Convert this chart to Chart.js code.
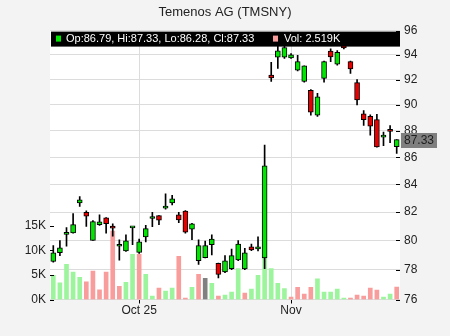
<!DOCTYPE html>
<html>
<head>
<meta charset="utf-8">
<title>Temenos AG (TMSNY)</title>
<script src="https://cdn.jsdelivr.net/npm/chart.js@4.4.1/dist/chart.umd.min.js"></script>
<style>
html, body { margin: 0; padding: 0; background: #f3f3f3; }
</style>
</head>
<body>
<canvas id="ChartTmsny" width="450" height="336"></canvas>
<script>
// daily candles, Sep 12 - Nov 25 2025
const days = [
    '2025-09-12', '2025-09-15', '2025-09-16', '2025-09-17', '2025-09-18', '2025-09-19',
    '2025-09-22', '2025-09-23', '2025-09-24', '2025-09-25', '2025-09-26', '2025-09-29', '2025-09-30',
    '2025-10-01', '2025-10-02', '2025-10-03', '2025-10-06', '2025-10-07', '2025-10-08', '2025-10-09',
    '2025-10-10', '2025-10-13', '2025-10-14', '2025-10-15', '2025-10-16', '2025-10-17', '2025-10-20',
    '2025-10-21', '2025-10-22', '2025-10-23', '2025-10-24', '2025-10-27', '2025-10-28', '2025-10-29',
    '2025-10-30', '2025-10-31',
    '2025-11-03', '2025-11-04', '2025-11-05', '2025-11-06', '2025-11-07', '2025-11-10', '2025-11-11',
    '2025-11-12', '2025-11-13', '2025-11-14', '2025-11-17', '2025-11-18', '2025-11-19', '2025-11-20',
    '2025-11-21', '2025-11-24', '2025-11-25'
];
const opens = [
    78.55, 79.15, 80.42, 80.53, 82.65, 81.98, 80.00, 81.10, 81.58, 81.00, 79.60, 79.28, 80.88,
    79.17, 80.25, 81.54, 81.74, 82.28, 82.65, 81.80, 82.07, 80.79, 78.60, 78.82, 79.70, 78.43,
    77.84, 78.06, 78.66, 78.05, 79.56, 79.42, 78.80, 92.37, 93.80, 93.80,
    93.75, 92.75, 91.85, 91.15, 89.20, 92.10, 94.30, 93.25, 95.00, 93.45, 91.76, 89.30, 89.10,
    88.85, 87.52, 88.00, 86.79
];
const highs = [
    79.65, 80.00, 80.90, 81.89, 83.10, 82.08, 81.40, 81.80, 81.60, 81.17, 80.05, 80.40, 80.95,
    80.10, 81.06, 81.98, 81.75, 83.30, 83.20, 81.98, 82.10, 81.20, 80.05, 79.95, 80.40, 78.45,
    78.96, 79.40, 80.00, 79.45, 79.75, 80.25, 86.92, 93.38, 94.90, 94.90,
    94.10, 93.95, 93.10, 91.20, 90.90, 93.50, 94.50, 94.35, 95.10, 93.50, 92.00, 89.55, 89.23,
    89.27, 87.90, 88.40, 87.33
];
const lows = [
    78.50, 78.95, 79.60, 80.50, 82.40, 80.99, 80.00, 81.05, 80.50, 80.30, 78.65, 79.25, 79.70,
    79.10, 79.90, 80.97, 81.10, 82.20, 82.50, 81.25, 80.50, 80.05, 78.35, 78.80, 79.00, 77.43,
    77.80, 78.00, 78.60, 78.00, 79.30, 79.28, 78.06, 91.85, 92.90, 93.70,
    93.70, 92.70, 91.80, 89.20, 89.10, 91.80, 93.45, 93.15, 94.48, 92.50, 90.00, 88.40, 87.67,
    86.75, 86.87, 87.10, 86.28
];
const closes = [
    79.15, 79.49, 80.50, 81.11, 82.87, 81.70, 81.33, 81.30, 81.17, 80.85, 79.62, 79.97, 80.90,
    79.90, 80.83, 81.56, 81.43, 82.30, 82.95, 81.44, 80.58, 81.17, 79.65, 79.65, 80.10, 77.67,
    78.60, 78.95, 79.75, 79.15, 79.35, 79.56, 85.36, 92.13, 94.33, 94.60,
    94.00, 93.45, 93.10, 89.43, 90.63, 93.45, 93.83, 94.20, 94.56, 92.85, 90.38, 88.85, 88.35,
    86.77, 87.55, 87.95, 87.33
];
// volume in thousands
const volumes = [
    4.93, 3.37, 7.16, 5.60, 4.52, 3.57, 5.80, 1.95, 5.60, 13.90, 2.70, 3.50, 9.20,
    9.20, 5.10, 0.70, 2.30, 1.70, 2.30, 8.80, 0.30, 2.50, 5.10, 4.30, 3.30, 0.70,
    0.90, 1.50, 6.30, 1.30, 2.10, 4.90, 8.50, 6.30, 3.30, 2.20,
    0.50, 2.50, 1.10, 2.50, 4.20, 1.50, 1.50, 2.10, 0.30, 0.30, 0.90, 0.70, 2.30,
    1.90, 0.50, 1.10, 2.519
];
const priceTicks = [76, 78, 80, 82, 84, 86, 88, 90, 92, 94, 96];
const volTicks = [0, 5, 10, 15];
const xTickIdx = [13, 36];
const xTickText = ['Oct 25', 'Nov'];

const upColor = '#00e600';
const downColor = '#e60000';
const volUp = '#9cf59c';
const volDown = '#f99c9c';
const volFlat = '#808080';
const gridColor = '#dcdcdc';

const bodyColors = closes.map((c, i) => c >= opens[i] ? upColor : downColor);
const volColors = closes.map((c, i) => {
    if (i === 0 || c > closes[i - 1]) return volUp;
    if (c < closes[i - 1]) return volDown;
    return volFlat;
});

Chart.defaults.font.family = '"Liberation Sans", Arial, sans-serif';
Chart.defaults.font.size = 12;
Chart.defaults.color = '#222';

const chartBg = {
    id: 'chartBg',
    beforeDraw(chart) {
        const { ctx, chartArea: a } = chart;
        ctx.save();
        ctx.fillStyle = '#f3f3f3';
        ctx.fillRect(0, 0, chart.width, chart.height);
        ctx.fillStyle = '#ffffff';
        ctx.fillRect(a.left, a.top, a.right - a.left, a.bottom - a.top);
        ctx.restore();
    }
};

// tick marks drawn inside the plot, like the original
const innerTicks = {
    id: 'innerTicks',
    afterDatasetsDraw(chart) {
        const { ctx, chartArea: a, scales } = chart;
        ctx.save();
        ctx.strokeStyle = '#000';
        ctx.lineWidth = 1;
        ctx.beginPath();
        scales.y.ticks.forEach(t => {
            const py = Math.round(scales.y.getPixelForValue(t.value)) + 0.5;
            ctx.moveTo(a.right - 4, py);
            ctx.lineTo(a.right, py);
        });
        scales.vol.ticks.forEach(t => {
            const py = Math.round(scales.vol.getPixelForValue(t.value)) + 0.5;
            ctx.moveTo(a.left, py);
            ctx.lineTo(a.left + 4, py);
        });
        ctx.stroke();
        ctx.restore();
    }
};

const infoBar = {
    id: 'infoBar',
    afterDraw(chart) {
        const { ctx, chartArea: a, scales } = chart;
        const n = closes.length - 1;
        ctx.save();
        // header strip
        ctx.fillStyle = '#000';
        ctx.fillRect(a.left + 1, a.top + 1, a.right - a.left - 1, 15);
        ctx.font = '11px "Liberation Sans", Arial, sans-serif';
        ctx.textBaseline = 'middle';
        ctx.fillStyle = bodyColors[n];
        ctx.fillRect(a.left + 6, a.top + 5, 5, 6);
        ctx.fillStyle = '#fff';
        ctx.fillText('Op:' + opens[n].toFixed(2) + ', Hi:' + highs[n].toFixed(2) +
            ', Lo:' + lows[n].toFixed(2) + ', Cl:' + closes[n].toFixed(2), a.left + 16, a.top + 8.5);
        ctx.fillStyle = volColors[n];
        ctx.fillRect(a.left + 223, a.top + 5, 5, 6);
        ctx.fillStyle = '#fff';
        ctx.fillText('Vol: ' + volumes[n].toFixed(3) + 'K', a.left + 234, a.top + 8.5);

        // last price tag
        const py = scales.y.getPixelForValue(closes[n]);
        ctx.fillStyle = '#7f7f7f';
        ctx.fillRect(a.right + 1, Math.round(py) - 7, 36, 15);
        ctx.fillStyle = '#1e1e1e';
        ctx.font = '12px "Liberation Sans", Arial, sans-serif';
        ctx.fillText(closes[n].toFixed(2), a.right + 4, py + 1);
        ctx.restore();
    }
};

new Chart(document.getElementById('ChartTmsny'), {
    type: 'bar',
    data: {
        labels: days,
        datasets: [{
            label: 'Body',
            data: opens.map((o, i) => [o, closes[i]]),
            backgroundColor: bodyColors,
            borderColor: '#000',
            borderWidth: 1,
            borderSkipped: false,
            barThickness: 5,
            minBarLength: 2,
            grouped: false,
            yAxisID: 'y',
            order: 1
        }, {
            label: 'Wick',
            data: lows.map((l, i) => [l, highs[i]]),
            backgroundColor: '#000',
            barThickness: 1,
            grouped: false,
            yAxisID: 'y',
            order: 2
        }, {
            label: 'Volume',
            data: volumes,
            backgroundColor: volColors,
            barThickness: 4,
            grouped: false,
            yAxisID: 'vol',
            order: 3
        }]
    },
    options: {
        responsive: false,
        animation: false,
        layout: { padding: 0 },
        plugins: {
            legend: { display: false },
            tooltip: { enabled: false },
            title: {
                display: true,
                text: 'Temenos AG (TMSNY)',
                color: '#222',
                font: { size: 13, weight: 'normal' },
                padding: { top: 5, bottom: 10 }
            }
        },
        scales: {
            x: {
                offset: true,
                grid: { color: gridColor, offset: false, tickLength: 4, tickColor: '#000' },
                border: { display: false },
                afterBuildTicks: axis => { axis.ticks = xTickIdx.map(i => ({ value: i })); },
                afterFit: axis => { axis.height = 36.5; },
                ticks: {
                    autoSkip: false,
                    maxRotation: 0,
                    padding: 0,
                    color: '#222',
                    callback: value => xTickText[xTickIdx.indexOf(value)]
                }
            },
            y: {
                type: 'logarithmic',
                position: 'right',
                min: 76,
                max: 96,
                grid: { color: gridColor, drawTicks: false },
                border: { display: false },
                afterBuildTicks: axis => { axis.ticks = priceTicks.map(v => ({ value: v })); },
                afterFit: axis => { axis.width = 50; },
                ticks: { padding: 4, color: '#222', callback: value => String(value) }
            },
            vol: {
                type: 'linear',
                position: 'left',
                min: 0,
                max: 54.7,
                grid: { display: false, drawTicks: false },
                border: { display: false },
                afterBuildTicks: axis => { axis.ticks = volTicks.map(v => ({ value: v })); },
                afterFit: axis => { axis.width = 50; },
                ticks: { padding: 4, color: '#222', callback: value => value + 'K' }
            }
        }
    },
    plugins: [chartBg, innerTicks, infoBar]
});
</script>
</body>
</html>
